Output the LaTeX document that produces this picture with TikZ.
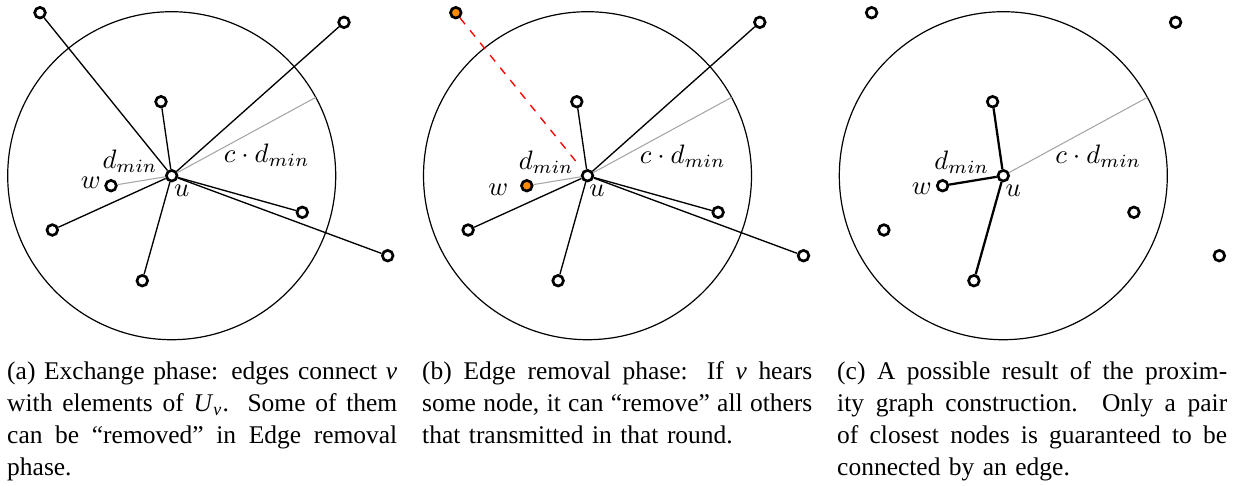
\documentclass[tikz,border=0pt]{standalone}
\usepackage{fontspec}
\setmainfont{Liberation Serif}
\usetikzlibrary{calc}
\definecolor{nodeorange}{RGB}{255,140,0}
\newlength{\capwidth}
\setlength{\capwidth}{146.25pt}
\tikzset{
  pt/.style={circle, draw=black, line width=1pt, fill=white, inner sep=0pt, minimum size=4pt},
  hot/.style={pt, fill=nodeorange},
  edgeline/.style={line width=0.5pt},
  edgebold/.style={line width=0.85pt},
  distline/.style={black!35, line width=0.4pt},
  removedline/.style={red, dashed, line width=0.5pt},
  rangecircle/.style={line width=0.45pt},
  lbl/.style={inner sep=0pt, font=\fontsize{10}{12}\selectfont},
  captxt/.style={inner sep=0pt, anchor=north west, text width=\capwidth, align=left,
    font=\fontsize{9.55}{12}\selectfont},
}
\newcommand{\fullline}[1]{\hbox to \capwidth{\spaceskip=0pt\xspaceskip=0pt #1}}
\begin{document}
\begin{tikzpicture}[x=0.375pt, y=-0.375pt]
\useasboundingbox (0,0) rectangle (1234,485);
\foreach \p/\dx/\hs in {a/0/pt,b/415.8/hot,c/831.6/pt}{
  \begin{scope}[shift={(\dx,0)}]
    \node[pt] (\p-u)  at (171.7,175.7) {};
    \node[\hs] (\p-n1) at (40,12.7) {};
    \node[pt] (\p-n2) at (344,22.3) {};
    \node[pt] (\p-n3) at (161,101.7) {};
    \node[\hs] (\p-w)  at (111,185.7) {};
    \node[pt] (\p-n5) at (52.3,230) {};
    \node[pt] (\p-n6) at (142.3,280.7) {};
    \node[pt] (\p-n7) at (302.3,212.3) {};
    \node[pt] (\p-n8) at (387.7,255.7) {};
    \coordinate (\p-g) at ($(\p-u.center)+(144,-78.3)$);
    \draw[rangecircle] (\p-u.center) circle[radius=164];
    \draw[distline] (\p-u) -- (\p-g);
  \end{scope}
}
% panel (a)
\draw[distline] (a-u) -- (a-w);
\foreach \t in {n1,n2,n3,n5,n6,n7,n8}{\draw[edgeline] (a-u) -- (a-\t);}
% panel (b)
\draw[distline] (b-u) -- (b-w);
\foreach \t in {n2,n3,n5,n6,n7,n8}{\draw[edgeline] (b-u) -- (b-\t);}
\draw[removedline, shorten >=3pt] (b-n1) -- (b-u);
% panel (c)
\foreach \t in {n3,w,n6}{\draw[edgebold] (c-u) -- (c-\t);}
% labels
\node[lbl] (a-ldmin) at (130,161.7) {$d_{min}$};
\node[lbl] (a-lw)    at (90.7,182.7) {$w$};
\node[lbl] (a-lu)    at (181.7,190.7) {$u$};
\node[lbl] (a-lc)    at (266.7,155.7) {$c\cdot d_{min}$};
\node[lbl] (b-ldmin) at (546.2,162.3) {$d_{min}$};
\node[lbl] (b-lw)    at (498.3,190.2) {$w$};
\node[lbl] (b-lu)    at (596.9,190.7) {$u$};
\node[lbl] (b-lc)    at (682.7,156.5) {$c\cdot d_{min}$};
\node[lbl] (c-ldmin) at (961.7,162) {$d_{min}$};
\node[lbl] (c-lw)    at (921.7,188.5) {$w$};
\node[lbl] (c-lu)    at (1013.3,190.7) {$u$};
\node[lbl] (c-lc)    at (1098.3,156.5) {$c\cdot d_{min}$};
% captions
\node[captxt] (capa) at (6.7,361) {\fullline{(a) Exchange phase: edges connect \textit{v}}
\fullline{with elements of \textit{U}\textsubscript{\textit{v}}. Some of them}
\fullline{can be ``removed'' in Edge removal}
\hbox{phase.}};
\node[captxt] (capb) at (421.7,361) {\fullline{(b) Edge removal phase: If \textit{v} hears}
\fullline{some node, it can ``remove'' all others}
\hbox{that transmitted in that round.}};
\node[captxt] (capc) at (836.7,361) {\fullline{(c) A possible result of the proxim-}
\fullline{ity graph construction. Only a pair}
\fullline{of closest nodes is guaranteed to be}
\hbox{connected by an edge.}};
\end{tikzpicture}
\end{document}
